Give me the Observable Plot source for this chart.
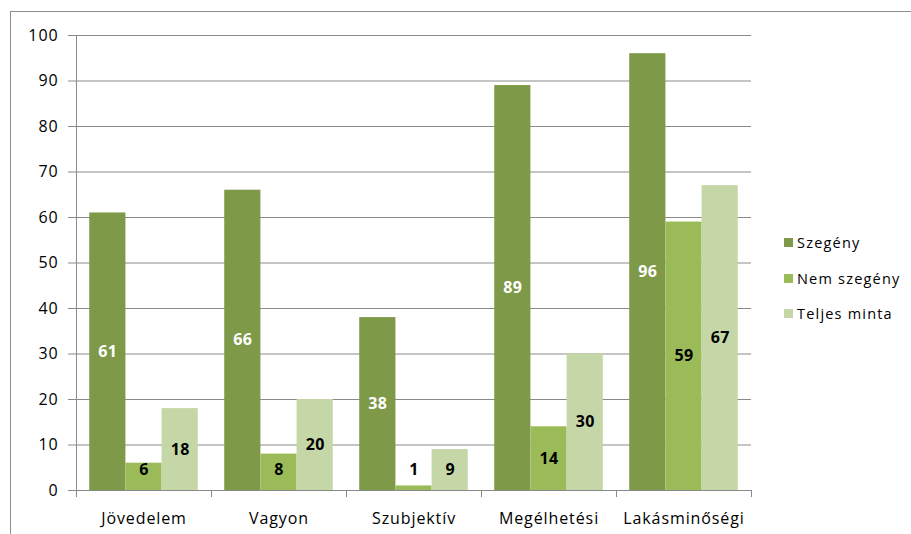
<!DOCTYPE html>
<html>
<head>
<meta charset="utf-8">
<script src="https://cdn.jsdelivr.net/npm/d3@7"></script>
<script src="https://cdn.jsdelivr.net/npm/@observablehq/plot@0.6"></script>
<style>
  html, body { margin: 0; padding: 0; background: #fff; overflow: hidden; }
  #wrap { position: relative; width: 911px; height: 534px; overflow: hidden; }
  #border { position: absolute; left: 10px; top: 11px; width: 1000px; height: 600px; border: 1.5px solid #8c8c8c; box-sizing: border-box; }
  #chart { position: absolute; left: 0; top: 0; }
  #legend { position: absolute; left: 784px; top: 225px; font-family: "Open Sans", sans-serif; font-size: 14.5px; color: #000; letter-spacing: 1.2px; }
  .item { display: flex; align-items: center; height: 35.5px; }
  .sw { width: 9px; height: 9px; margin-right: 4px; }
  svg text { letter-spacing: 0.9px; }
  svg .vlabels text { letter-spacing: 0.3px; }
</style>
</head>
<body>
<div id="wrap">
  <div id="border"></div>
  <div id="chart"></div>
  <div id="legend"></div>
</div>
<script>
const categories = ["Jövedelem", "Vagyon", "Szubjektív", "Megélhetési", "Lakásminőségi"];
const series = ["Szegény", "Nem szegény", "Teljes minta"];
const szegeny = [61, 66, 38, 89, 96];
const nemSzegeny = [6, 8, 1, 14, 59];
const teljesMinta = [18, 20, 9, 30, 67];
const yTicks = [0, 10, 20, 30, 40, 50, 60, 70, 80, 90, 100];

const colors = ["#7E9A48", "#9BBB59", "#C5D7A6"];
const labelColors = ["#ffffff", "#000000", "#000000"];
const seriesValues = [szegeny, nemSzegeny, teljesMinta];

const pad = 0.098;
const bw = (1 - 2 * pad) / 3;

const rows = [];
categories.forEach((c, i) => {
  series.forEach((s, j) => {
    const x1 = i + pad + j * bw;
    rows.push({category: c, series: s, value: seriesValues[j][i], x1, x2: x1 + bw, xm: x1 + bw / 2, j});
  });
});

const font = "Open Sans, sans-serif";

const plot = Plot.plot({
  width: 911,
  height: 534,
  marginLeft: 76,
  marginRight: 160,
  marginTop: 35,
  marginBottom: 44,
  style: {fontFamily: font, fontSize: "15px", color: "#000", background: "transparent"},
  x: {domain: [0, 5]},
  y: {domain: [0, 100]},
  color: {domain: series, range: colors},
  marks: [
    Plot.gridY(yTicks, {stroke: "#8a8a8a", strokeOpacity: 1, strokeWidth: 1}),
    Plot.rect(rows, {x1: "x1", x2: "x2", y1: 0, y2: "value", fill: "series"}),
    Plot.ruleX([0], {y1: 0, y2: 100, stroke: "#8a8a8a", strokeWidth: 1}),
    Plot.ruleY([0], {stroke: "#8a8a8a", strokeWidth: 1}),
    Plot.axisY({ticks: yTicks, tickSize: 8, tickPadding: 10, stroke: "#8a8a8a", label: null, fontSize: 16, fill: "#000"}),
    Plot.axisX({ticks: d3.range(0, 6), tickSize: 7, tickFormat: () => "", stroke: "#8a8a8a", label: null}),
    Plot.axisX({ticks: d3.range(0, 5).map(i => i + 0.5), tickSize: 0, tickPadding: 22, tickFormat: d => categories[Math.floor(d)], label: null, fontSize: 16, fill: "#000"}),
    Plot.text(rows, {
      x: "xm",
      y: d => Math.max(d.value / 2, 4.5),
      text: d => String(d.value),
      fill: d => labelColors[d.j],
      fontWeight: "bold",
      fontSize: 16,
      className: "vlabels"
    })
  ]
});
document.getElementById("chart").appendChild(plot);

const legend = d3.select("#legend");
series.forEach((s, j) => {
  const item = legend.append("div").attr("class", "item");
  item.append("div").attr("class", "sw").style("background", colors[j]);
  item.append("span").text(s);
});
</script>
</body>
</html>
